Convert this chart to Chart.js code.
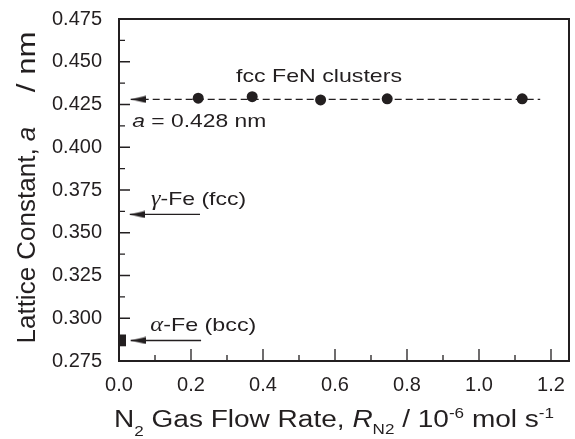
<!DOCTYPE html>
<html><head><meta charset="utf-8">
<script src="https://cdn.jsdelivr.net/npm/chart.js@4/dist/chart.umd.min.js"></script>
<style>html,body{margin:0;padding:0;background:#fff}canvas{display:block}</style>
</head><body>
<canvas id="c" width="575" height="439"></canvas>
<script>
// ---- data ----
const flowRates = [0.22, 0.37, 0.56, 0.745, 1.12];          // 10^-6 mol/s
const latticeConst = [0.4287, 0.4296, 0.4277, 0.4283, 0.4283]; // nm
const fccLevel = 0.428;
const fccLineX = [0.0325, 1.17];
const gammaFe = 0.3607;
const gammaArrowX = [0.03, 0.225];
const alphaFe = 0.287;
const alphaArrowX = [0.0325, 0.228];
const alphaBarX = 0.0097;
const alphaBarY = [0.2836, 0.2905];
const xTickValues = [0.0, 0.2, 0.4, 0.6, 0.8, 1.0, 1.2];
const xMinorTicks = [0.1, 0.3, 0.5, 0.7, 0.9, 1.1];
const yTickValues = [0.275, 0.300, 0.325, 0.350, 0.375, 0.400, 0.425, 0.450, 0.475];
const yMinorTicks = [0.2875, 0.3125, 0.3375, 0.3625, 0.3875, 0.4125, 0.4375, 0.4625];
const xRange = [0, 1.25];
const yRange = [0.275, 0.475];

const INK = '#231f20';
const SANS = '"Liberation Sans", Arial, Helvetica, sans-serif';
const SERIF = '"Liberation Serif", "Times New Roman", serif';

function arrowHead() {
  const c = document.createElement('canvas');
  c.width = 30; c.height = 8;
  const g = c.getContext('2d');
  g.fillStyle = INK;
  g.beginPath(); g.moveTo(15, 4); g.lineTo(30, 0.6); g.lineTo(30, 7.4); g.closePath(); g.fill();
  return c;
}
const ARROW = arrowHead();
const tipStyle = (ctx) => ctx.dataIndex === 0 ? ARROW : 'circle';
const tipRadius = (ctx) => ctx.dataIndex === 0 ? 3 : 0;

function fontStr(p) { return (p.italic ? 'italic ' : '') + p.size + 'px ' + (p.family || SANS); }
// draws a run of text parts; o.width stretches horizontally, o.align: left|center|right
function rich(ctx, parts, x, y, o) {
  ctx.save();
  let w = 0;
  const ms = parts.map(p => { ctx.font = fontStr(p); const m = ctx.measureText(p.t).width; w += m; return m; });
  const sx = o.width ? o.width / w : (o.sx || 1);
  ctx.translate(x, y);
  if (o.rot) ctx.rotate(o.rot);
  ctx.scale(sx, 1);
  let cx = o.align === 'center' ? -w / 2 : (o.align === 'right' ? -w : 0);
  ctx.fillStyle = INK; ctx.textBaseline = 'alphabetic'; ctx.textAlign = 'left';
  parts.forEach((p, i) => { ctx.font = fontStr(p); ctx.fillText(p.t, cx, p.dy || 0); cx += ms[i]; });
  ctx.restore();
}

const decor = {
  id: 'decor',
  afterDraw(chart) {
    const ctx = chart.ctx, a = chart.chartArea;
    const xs = chart.scales.x, ys = chart.scales.y;
    ctx.save();
    ctx.strokeStyle = INK;
    ctx.lineWidth = 1.3;
    ctx.beginPath();
    yTickValues.forEach(v => { const p = ys.getPixelForValue(v); ctx.moveTo(a.left, p); ctx.lineTo(a.left + 11, p); });
    yMinorTicks.forEach(v => { const p = ys.getPixelForValue(v); ctx.moveTo(a.left, p); ctx.lineTo(a.left + 6, p); });
    xTickValues.forEach(v => { const p = xs.getPixelForValue(v); ctx.moveTo(p, a.bottom); ctx.lineTo(p, a.bottom - 12); });
    xMinorTicks.forEach(v => { const p = xs.getPixelForValue(v); ctx.moveTo(p, a.bottom); ctx.lineTo(p, a.bottom - 6); });
    ctx.stroke();
    ctx.lineWidth = 2;
    ctx.strokeRect(a.left, a.top, a.right - a.left, a.bottom - a.top);
    ctx.restore();

    // annotations
    rich(ctx, [{t: 'fcc FeN clusters', size: 19}], xs.getPixelForValue(0.325), ys.getPixelForValue(0.4383), {width: 166});
    rich(ctx, [{t: 'a', size: 19, italic: true}, {t: ' = 0.428 nm', size: 19}], xs.getPixelForValue(0.037), ys.getPixelForValue(0.4120), {width: 134});
    rich(ctx, [{t: 'γ', size: 20, italic: true, family: SERIF}, {t: '-Fe (fcc)', size: 19}], xs.getPixelForValue(0.089), ys.getPixelForValue(0.3662), {width: 95});
    rich(ctx, [{t: 'α', size: 20, italic: true, family: SERIF}, {t: '-Fe (bcc)', size: 19}], xs.getPixelForValue(0.087), ys.getPixelForValue(0.2927), {width: 106});

    // axis titles
    rich(ctx, [
      {t: 'N', size: 23}, {t: '2', size: 14, dy: 9}, {t: ' Gas Flow Rate, ', size: 23},
      {t: 'R', size: 23, italic: true}, {t: 'N2', size: 14, dy: 7}, {t: ' / 10', size: 23},
      {t: '-6', size: 14, dy: -9}, {t: ' mol s', size: 23}, {t: '-1', size: 14, dy: -9}
    ], 334, 426.7, {width: 440, align: 'center'});
    rich(ctx, [{t: 'Lattice Constant, ', size: 26}, {t: 'a', size: 26, italic: true}],
      35, 343.5, {align: 'left', rot: -Math.PI / 2});
    rich(ctx, [{t: '/ nm', size: 26}], 35, 31.5, {align: 'right', rot: -Math.PI / 2, sx: 1.2});
  }
};

const tickFont = {family: SANS, size: 20};

new Chart(document.getElementById('c'), {
  type: 'scatter',
  data: {
    datasets: [
      {
        type: 'scatter', label: 'fcc FeN clusters',
        data: flowRates.map((x, i) => ({x, y: latticeConst[i]})),
        pointRadius: 5.5, pointBackgroundColor: INK, pointBorderWidth: 0, showLine: false
      },
      {
        type: 'line', label: 'a = 0.428 nm',
        data: fccLineX.map(x => ({x, y: fccLevel})),
        borderColor: INK, borderWidth: 1.3, borderDash: [7, 4],
        pointStyle: tipStyle, pointRadius: tipRadius, pointBackgroundColor: INK, pointBorderWidth: 0, fill: false
      },
      {
        type: 'line', label: 'γ-Fe (fcc)',
        data: gammaArrowX.map(x => ({x, y: gammaFe})),
        borderColor: INK, borderWidth: 1.3,
        pointStyle: tipStyle, pointRadius: tipRadius, pointBorderWidth: 0, fill: false
      },
      {
        type: 'line', label: 'α-Fe (bcc)',
        data: alphaArrowX.map(x => ({x, y: alphaFe})),
        borderColor: INK, borderWidth: 1.3,
        pointStyle: tipStyle, pointRadius: tipRadius, pointBorderWidth: 0, fill: false
      },
      {
        type: 'line', label: 'α-Fe mark',
        data: alphaBarY.map(y => ({x: alphaBarX, y})),
        borderColor: INK, borderWidth: 7, borderCapStyle: 'butt', pointRadius: 0, fill: false
      }
    ]
  },
  options: {
    responsive: false,
    devicePixelRatio: 1,
    animation: false,
    events: [],
    layout: {padding: {left: 0, right: 6, top: 19, bottom: 0}},
    plugins: {legend: {display: false}, tooltip: {enabled: false}},
    scales: {
      x: {
        type: 'linear', min: xRange[0], max: xRange[1],
        afterBuildTicks: s => { s.ticks = xTickValues.map(v => ({value: v})); },
        afterFit: s => { s.height = 78; s.paddingLeft = 0; s.paddingRight = 0; },
        grid: {display: false, drawTicks: false},
        border: {display: false},
        ticks: {font: tickFont, color: INK, padding: 12, maxRotation: 0, autoSkip: false,
          callback: v => Number(v).toFixed(1)}
      },
      y: {
        type: 'linear', min: yRange[0], max: yRange[1],
        afterBuildTicks: s => { s.ticks = yTickValues.map(v => ({value: v})); },
        afterFit: s => { s.width = 119; s.paddingTop = 0; s.paddingBottom = 0; },
        grid: {display: false, drawTicks: false},
        border: {display: false},
        ticks: {font: tickFont, color: INK, padding: 17, autoSkip: false,
          callback: v => Number(v).toFixed(3)}
      }
    }
  },
  plugins: [decor]
});
</script>
</body></html>
